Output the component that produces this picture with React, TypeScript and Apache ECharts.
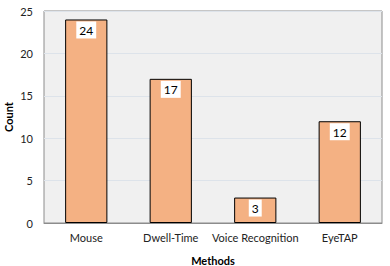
import React, { useEffect, useRef } from "react";
import * as echarts from "echarts";

const categories = ["Mouse", "Dwell-Time", "Voice Recognition", "EyeTAP"];
const counts = [24, 17, 3, 12];
const yTicks = { min: 0, max: 25, interval: 5 };

export default function App() {
  const ref = useRef<HTMLDivElement>(null);
  useEffect(() => {
    document.body.style.margin = "0";
    const chart = echarts.init(ref.current!, null, { renderer: "svg" });
    const font = "Lato";
    chart.setOption({
      animation: false,
      backgroundColor: "#ffffff",
      grid: {
        left: 44,
        right: 8,
        top: 11,
        bottom: 43,
        containLabel: false,
        outerBoundsMode: "none",
        show: true,
        backgroundColor: "#f0f0f0",
        borderColor: "#8c8c8c",
        borderWidth: 1,
      },
      xAxis: {
        type: "category",
        data: categories,
        name: "Methods",
        nameLocation: "middle",
        nameGap: 32,
        nameTextStyle: { fontFamily: font, fontSize: 11, fontWeight: "bold", color: "#000" },
        axisLine: { lineStyle: { color: "#8c8c8c" } },
        axisTick: { alignWithLabel: true, length: 5, lineStyle: { color: "#555" } },
        axisLabel: { interval: 0, fontFamily: font, fontSize: 11, color: "#222", margin: 9 },
      },
      yAxis: {
        type: "value",
        min: yTicks.min,
        max: yTicks.max,
        interval: yTicks.interval,
        name: "Count",
        nameLocation: "middle",
        nameGap: 30,
        nameMoveOverlap: false,
        nameTextStyle: { fontFamily: font, fontSize: 11, fontWeight: "bold", color: "#000" },
        axisLine: { show: false },
        axisTick: { show: false },
        axisLabel: { fontFamily: font, fontSize: 11, color: "#222", margin: 11 },
        splitLine: { lineStyle: { color: "#dde3ea" } },
      },
      series: [
        {
          type: "bar",
          data: counts,
          barWidth: "50%",
          itemStyle: { color: "#f4b183", borderColor: "#000", borderWidth: 1 },
          label: {
            show: true,
            position: "insideTop",
            distance: 2,
            backgroundColor: "#ffffff",
            padding: [3, 3, 2, 3],
            fontFamily: font,
            fontSize: 12,
            color: "#000",
          },
        },
      ],
    });
    return () => chart.dispose();
  }, []);
  return <div ref={ref} style={{ width: 390, height: 266 }} />;
}
